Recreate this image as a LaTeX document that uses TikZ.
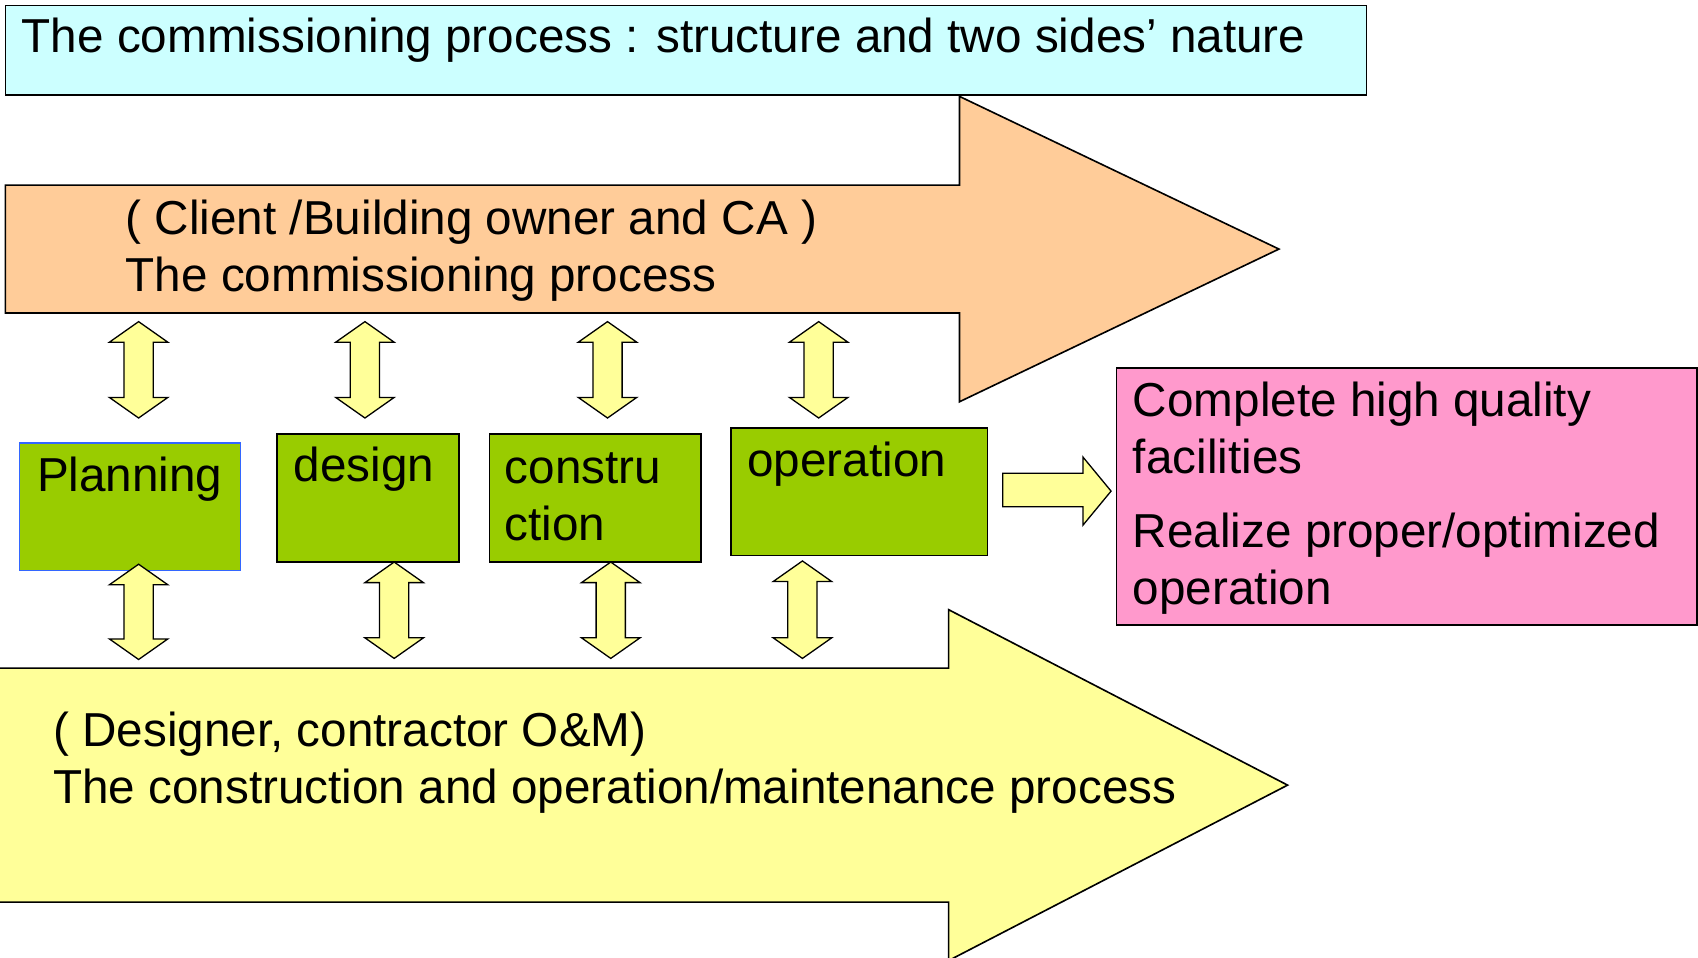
\documentclass[tikz,border=0pt]{standalone}
\usepackage{fontspec}
\setmainfont{Liberation Sans}
\usepackage{tikz}
\usetikzlibrary{arrows,positioning}
\usepackage{xcolor}
\definecolor{titlecyan}{HTML}{CCFFFF}
\definecolor{clientorange}{HTML}{FFCC99}
\definecolor{phasegreen}{HTML}{99CC00}
\definecolor{linkyellow}{HTML}{FFFF99}
\definecolor{goalpink}{HTML}{FF99CC}
\definecolor{planblue}{HTML}{3366FF}

% vertical two-headed block arrow: x, top y, bottom y
\newcommand{\updown}[3]{%
  \draw[link] (#1,#2) -- ++(27,19) -- ++(-13.5,0) -- (#1+13.5,#3-19) -- ++(13.5,0)
    -- (#1,#3) -- ++(-27,-19) -- ++(13.5,0) -- (#1-13.5,#2+19) -- ++(-13.5,0) -- cycle;}

\begin{document}
\begin{tikzpicture}[x=1pt,y=-1pt,line join=miter]
  \tikzstyle{banner}=[draw=black,line width=1.5pt,outer sep=0pt]
  \tikzstyle{phase}=[rectangle,draw=black,line width=1.6pt,fill=phasegreen,anchor=north west,outer sep=0pt,minimum height=118pt]
  \tikzstyle{link}=[draw=black,line width=1.2pt,fill=linkyellow]
  \tikzstyle{words}=[anchor=base west,inner sep=0pt,align=left,font=\fontsize{44}{52.5}\selectfont]

  \useasboundingbox (0,0) rectangle (1568,884);

  \node[banner,fill=titlecyan,anchor=north west,minimum width=1257pt,minimum height=83pt] (title) at (5,5) {};
  \node[words] (titleT) at (20,48.6) {The commissioning process : structure and two sides’ nature};

  % upper process arrow
  \draw[banner,fill=clientorange] (5,171) -- (886,171) -- (886,89) -- (1181,230)
    -- (886,371) -- (886,289) -- (5,289) -- cycle;
  \node[words] (client) at (116,269) {( Client /Building owner and CA )\\The commissioning process};

  % lower process arrow
  \draw[banner,fill=linkyellow] (-5,617) -- (876,617) -- (876,563) -- (1189,725)
    -- (876,887) -- (876,833) -- (-5,833) -- cycle;
  \node[words] (crew) at (49,742) {( Designer, contractor O\&M)\\The construction and operation/maintenance process};

  \node[phase,draw=planblue,line width=1.2pt,minimum width=204pt] (plan) at (18,409) {};
  \node[phase,minimum width=168pt]   (design) at (256,401) {};
  \node[phase,minimum width=195pt]   (constr) at (452,401) {};
  \node[phase,minimum width=237pt]   (oper)   at (675,395) {};

  \node[words] (planT)   at (34,454)  {Planning};
  \node[words] (designT) at (271,445) {design};
  \node[words] (constrT) at (466,499) {constru\\ction};
  \node[words] (operT)   at (690,440) {operation};

  \updown{128}{297}{386}
  \updown{337}{297}{386}
  \updown{561}{297}{386}
  \updown{756}{297}{386}

  \updown{128}{521}{609}
  \updown{364}{519}{608}
  \updown{564}{519}{608}
  \updown{741}{518}{608}

  \draw[link] (926,437) -- (1000,437) -- (1000,422) -- (1026,453.5)
    -- (1000,485) -- (1000,468) -- (926,468) -- cycle;

  \node[banner,fill=goalpink,anchor=north west,minimum width=536pt,minimum height=237pt] (goal) at (1031,340) {};
  \node[words] (goalT) at (1046,558) {Complete high quality\\facilities\\[16pt]Realize proper/optimized\\operation};
\end{tikzpicture}
\end{document}
